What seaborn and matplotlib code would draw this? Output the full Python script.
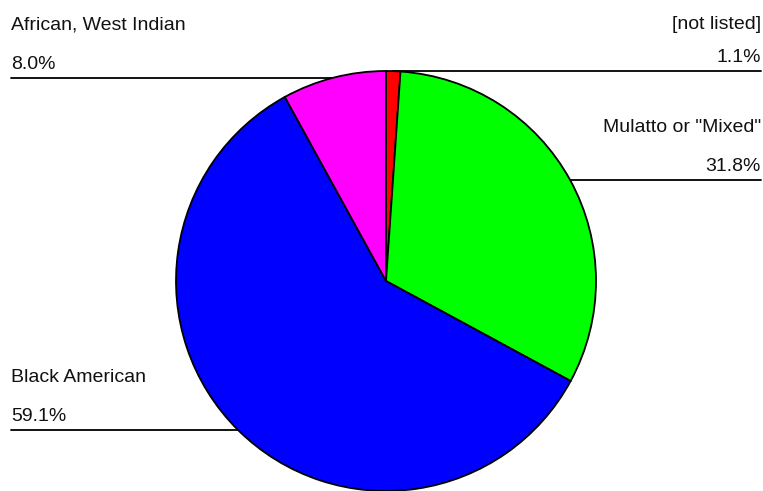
import numpy as np
import matplotlib
matplotlib.use("Agg")
import matplotlib.pyplot as plt
import seaborn as sns

# Share of respondents by group, clockwise from 12 o'clock
groups = ["[not listed]", "Mulatto or \"Mixed\"", "Black American", "African, West Indian"]
shares = [1.1, 31.8, 59.1, 8.0]
pct_labels = ["1.1%", "31.8%", "59.1%", "8.0%"]
colors = ["#FF0000", "#00FF00", "#0000FF", "#FF00FF"]

sns.set_theme(style="white")
plt.rcParams["font.family"] = ["Liberation Sans", "DejaVu Sans"]

W, H = 763, 491
fig = plt.figure(figsize=(W / 100, H / 100), dpi=100)
ax = fig.add_axes([0, 0, 1, 1])
ax.set_xlim(0, W)
ax.set_ylim(0, H)
ax.set_aspect("equal")
ax.axis("off")

cx, cy, r = 386, 210, 210
wedges, _ = ax.pie(
    shares, colors=colors, startangle=90, counterclock=False,
    center=(cx, cy), radius=r, frame=True,
    wedgeprops=dict(edgecolor="black", linewidth=1.3, zorder=3),
)
ax.set_xlim(0, W)
ax.set_ylim(0, H)
ax.axis("off")

left_x, right_x = 11, 761
fs = 14
for w, name, pct in zip(wedges, groups, pct_labels):
    mid = np.deg2rad((w.theta1 + w.theta2) / 2)
    px, py = cx + r * np.cos(mid), cy + r * np.sin(mid)
    on_right = px >= cx
    x_end = right_x if on_right else left_x
    ha = "right" if on_right else "left"
    ax.plot([px, x_end], [py, py], color="black", lw=1.3, zorder=1, clip_on=False)
    ax.text(x_end, py + 9, pct, ha=ha, va="baseline", fontsize=fs, color="#111111")
    name_y = min(py + 48, H - 29)
    ax.text(x_end, name_y, name, ha=ha, va="baseline", fontsize=fs, color="#111111")

fig.savefig("out.png", dpi=100)
